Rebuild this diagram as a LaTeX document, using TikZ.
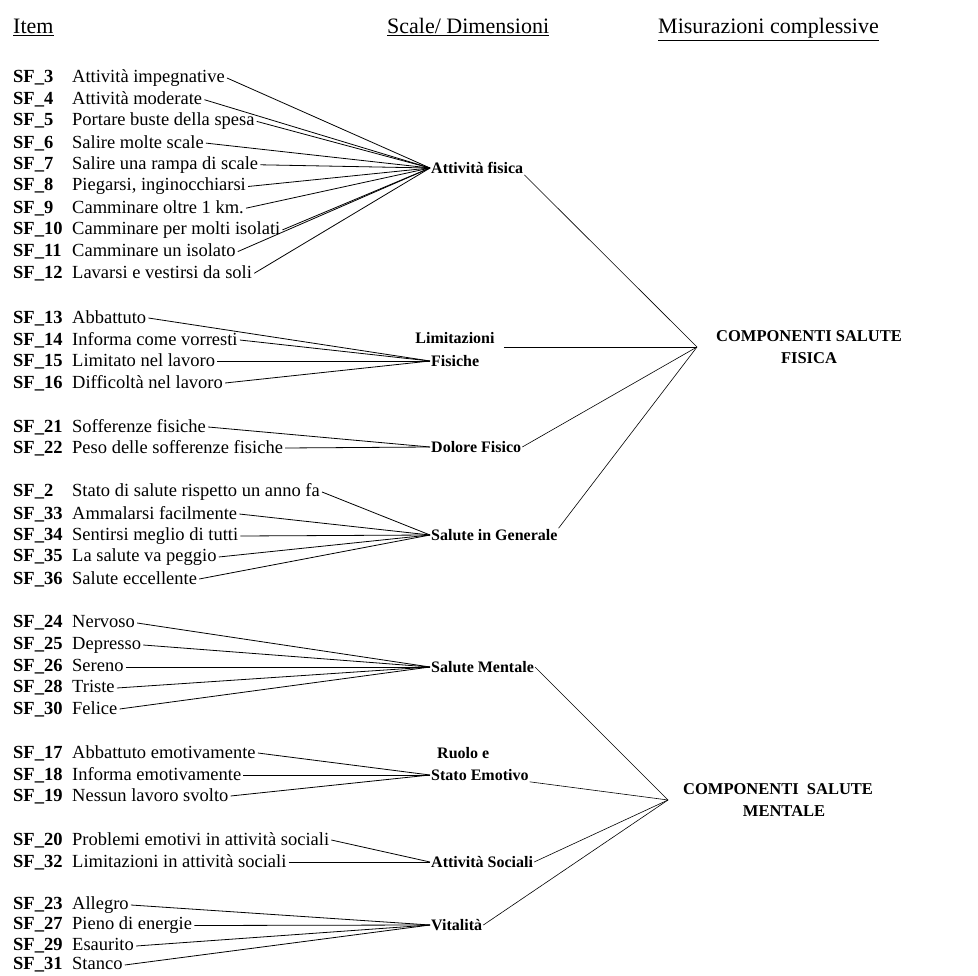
\documentclass[tikz,border=0pt]{standalone}
\usepackage{fontspec}
\setmainfont{Liberation Serif}
\usetikzlibrary{positioning}

\newcommand{\itemcode}[1]{\makebox[59pt][l]{\textbf{SF\_#1}}}

\begin{document}
\begin{tikzpicture}[x = 1pt, y = -1pt, font = \fontsize{18.5}{22}\selectfont]
	\tikzstyle{headStyle} = [anchor = base west, inner sep = 0pt, font = \fontsize{22}{26}\selectfont]
	\tikzstyle{itemStyle} = [anchor = west, inner sep = 2pt]
	\tikzstyle{scaleStyle} = [anchor = west, inner sep = 1pt, font = \fontsize{16}{18}\selectfont\bfseries]
	\tikzstyle{compStyle} = [align = center, inner sep = 0pt, font = \fontsize{16.5}{22}\selectfont\bfseries]
	\tikzstyle{itemEdge} = [line width = 0.8pt]
	\tikzstyle{compEdge} = [line width = 0.6pt]
	\useasboundingbox (0, 0) rectangle (978, 976);
	% column headers
	\node[headStyle] (hItem) at (13, 34) {\underline{Item}};
	\node[headStyle] (hScale) at (387, 34) {\underline{Scale/ Dimensioni}};
	\node[headStyle] (hMis) at (658, 34) {\underline{Misurazioni complessive}};
	% items
	\node[itemStyle] (sf3) at (11, 78) {\itemcode{3}Attività impegnative};
	\node[itemStyle] (sf4) at (11, 99.7) {\itemcode{4}Attività moderate};
	\node[itemStyle] (sf5) at (11, 121.4) {\itemcode{5}Portare buste della spesa};
	\node[itemStyle] (sf6) at (11, 143.1) {\itemcode{6}Salire molte scale};
	\node[itemStyle] (sf7) at (11, 164.8) {\itemcode{7}Salire una rampa di scale};
	\node[itemStyle] (sf8) at (11, 186.5) {\itemcode{8}Piegarsi, inginocchiarsi};
	\node[itemStyle] (sf9) at (11, 208.2) {\itemcode{9}Camminare oltre 1 km.};
	\node[itemStyle] (sf10) at (11, 229.9) {\itemcode{10}Camminare per molti isolati};
	\node[itemStyle] (sf11) at (11, 251.6) {\itemcode{11}Camminare un isolato};
	\node[itemStyle] (sf12) at (11, 273.3) {\itemcode{12}Lavarsi e vestirsi da soli};
	\node[itemStyle] (sf13) at (11, 318) {\itemcode{13}Abbattuto};
	\node[itemStyle] (sf14) at (11, 340) {\itemcode{14}Informa come vorresti};
	\node[itemStyle] (sf15) at (11, 361) {\itemcode{15}Limitato nel lavoro};
	\node[itemStyle] (sf16) at (11, 383) {\itemcode{16}Difficoltà nel lavoro};
	\node[itemStyle] (sf21) at (11, 427) {\itemcode{21}Sofferenze fisiche};
	\node[itemStyle] (sf22) at (11, 448) {\itemcode{22}Peso delle sofferenze fisiche};
	\node[itemStyle] (sf2) at (11, 492) {\itemcode{2}Stato di salute rispetto un anno fa};
	\node[itemStyle] (sf33) at (11, 514) {\itemcode{33}Ammalarsi facilmente};
	\node[itemStyle] (sf34) at (11, 536) {\itemcode{34}Sentirsi meglio di tutti};
	\node[itemStyle] (sf35) at (11, 557) {\itemcode{35}La salute va peggio};
	\node[itemStyle] (sf36) at (11, 579) {\itemcode{36}Salute eccellente};
	\node[itemStyle] (sf24) at (11, 623) {\itemcode{24}Nervoso};
	\node[itemStyle] (sf25) at (11, 645) {\itemcode{25}Depresso};
	\node[itemStyle] (sf26) at (11, 667) {\itemcode{26}Sereno};
	\node[itemStyle] (sf28) at (11, 688) {\itemcode{28}Triste};
	\node[itemStyle] (sf30) at (11, 709) {\itemcode{30}Felice};
	\node[itemStyle] (sf17) at (11, 753) {\itemcode{17}Abbattuto emotivamente};
	\node[itemStyle] (sf18) at (11, 775) {\itemcode{18}Informa emotivamente};
	\node[itemStyle] (sf19) at (11, 796) {\itemcode{19}Nessun lavoro svolto};
	\node[itemStyle] (sf20) at (11, 840) {\itemcode{20}Problemi emotivi in attività sociali};
	\node[itemStyle] (sf32) at (11, 862) {\itemcode{32}Limitazioni in attività sociali};
	\node[itemStyle] (sf23) at (11, 905) {\itemcode{23}Allegro};
	\node[itemStyle] (sf27) at (11, 925.5) {\itemcode{27}Pieno di energie};
	\node[itemStyle] (sf29) at (11, 946) {\itemcode{29}Esaurito};
	\node[itemStyle] (sf31) at (11, 965) {\itemcode{31}Stanco};
	% scales
	\node[scaleStyle] (attfis) at (430, 168) {Attività fisica};
	\node[scaleStyle, anchor = center] (limA) at (455, 338) {Limitazioni};
	\node[scaleStyle] (limB) at (430, 361) {Fisiche};
	\node[scaleStyle] (dolfis) at (430, 447) {Dolore Fisico};
	\node[scaleStyle] (salgen) at (430, 535) {Salute in Generale};
	\node[scaleStyle] (salmen) at (430, 667) {Salute Mentale};
	\node[scaleStyle] (ruoloA) at (436, 753) {Ruolo e};
	\node[scaleStyle] (ruoloB) at (430, 775) {Stato Emotivo};
	\node[scaleStyle] (attsoc) at (430, 862) {Attività Sociali};
	\node[scaleStyle] (vital) at (430, 925) {Vitalità};
	% components
	\coordinate (cfis) at (697, 347);
	\coordinate (cment) at (668, 800);
	\node[compStyle, anchor = west, right = 19pt of cfis] (compfis) {COMPONENTI SALUTE\\FISICA};
	\node[compStyle, anchor = west, right = 15pt of cment] (compment) {COMPONENTI\ \ SALUTE\\\hspace*{12pt}MENTALE};
	% items to scales
	\draw[itemEdge] (sf3.east) -- (attfis.west);
	\draw[itemEdge] (sf4.east) -- (attfis.west);
	\draw[itemEdge] (sf5.east) -- (attfis.west);
	\draw[itemEdge] (sf6.east) -- (attfis.west);
	\draw[itemEdge] (sf7.east) -- (attfis.west);
	\draw[itemEdge] (sf8.east) -- (attfis.west);
	\draw[itemEdge] (sf9.east) -- (attfis.west);
	\draw[itemEdge] (sf10.east) -- (attfis.west);
	\draw[itemEdge] (sf11.east) -- (attfis.west);
	\draw[itemEdge] (sf12.east) -- (attfis.west);
	\draw[itemEdge] (sf13.east) -- (limB.west);
	\draw[itemEdge] (sf14.east) -- (limB.west);
	\draw[itemEdge] (sf15.east) -- (limB.west);
	\draw[itemEdge] (sf16.east) -- (limB.west);
	\draw[itemEdge] (sf21.east) -- (dolfis.west);
	\draw[itemEdge] (sf22.east) -- (dolfis.west);
	\draw[itemEdge] (sf2.east) -- (salgen.west);
	\draw[itemEdge] (sf33.east) -- (salgen.west);
	\draw[itemEdge] (sf34.east) -- (salgen.west);
	\draw[itemEdge] (sf35.east) -- (salgen.west);
	\draw[itemEdge] (sf36.east) -- (salgen.west);
	\draw[itemEdge] (sf24.east) -- (salmen.west);
	\draw[itemEdge] (sf25.east) -- (salmen.west);
	\draw[itemEdge] (sf26.east) -- (salmen.west);
	\draw[itemEdge] (sf28.east) -- (salmen.west);
	\draw[itemEdge] (sf30.east) -- (salmen.west);
	\draw[itemEdge] (sf17.east) -- (ruoloB.west);
	\draw[itemEdge] (sf18.east) -- (ruoloB.west);
	\draw[itemEdge] (sf19.east) -- (ruoloB.west);
	\draw[itemEdge] (sf20.east) -- (attsoc.west);
	\draw[itemEdge] (sf32.east) -- (attsoc.west);
	\draw[itemEdge] (sf23.east) -- (vital.west);
	\draw[itemEdge] (sf27.east) -- (vital.west);
	\draw[itemEdge] (sf29.east) -- (vital.west);
	\draw[itemEdge] (sf31.east) -- (vital.west);
	% scales to components
	\draw[compEdge] (attfis.south east) -- (cfis);
	\draw[compEdge] ([xshift = 8pt]limA.east |- cfis) -- (cfis);
	\draw[compEdge] (dolfis.east) -- (cfis);
	\draw[compEdge] (salgen.north east) -- (cfis);
	\draw[compEdge] (salmen.east) -- (cment);
	\draw[compEdge] (ruoloB.south east) -- (cment);
	\draw[compEdge] (attsoc.east) -- (cment);
	\draw[compEdge] (vital.east) -- (cment);
\end{tikzpicture}
\end{document}
